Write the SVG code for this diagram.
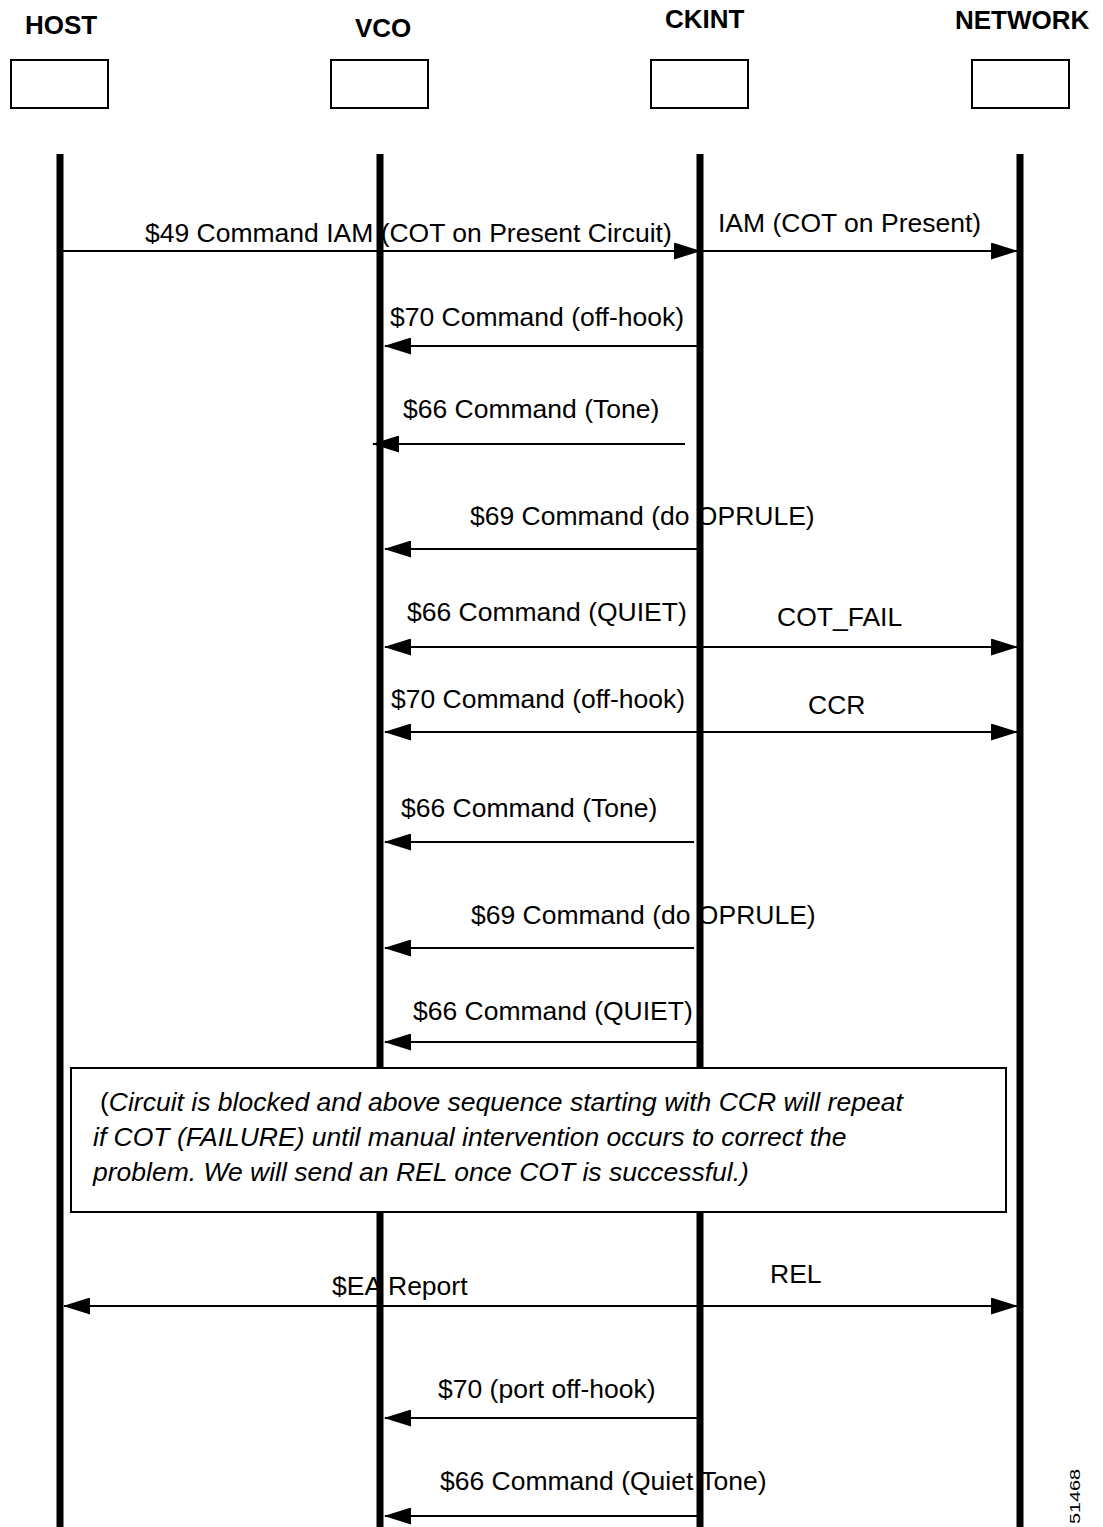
<svg xmlns="http://www.w3.org/2000/svg" width="1103" height="1527" viewBox="0 0 1103 1527">
  <style>
    text { font-family: "Liberation Sans", Arial, Helvetica, sans-serif; fill: #000; }
    .head { font-size: 26px; font-weight: bold; }
    .lbl { font-size: 26.5px; }
    .note { font-size: 26.5px; font-style: italic; }
    .up { font-style: normal; }
    .box { fill: #fff; stroke: #000; stroke-width: 2; }
    .life { stroke: #000; stroke-width: 7; }
    .msg { stroke: #000; stroke-width: 2; fill: none; }
    .to { marker-end: url(#head); }
    .both { marker-start: url(#head); marker-end: url(#head); }
  </style>
  <defs>
    <marker id="head" markerUnits="userSpaceOnUse" markerWidth="27" markerHeight="17" viewBox="0 0 27 17" refX="26" refY="8.5" orient="auto-start-reverse">
      <path d="M0,0 L27,8.5 L0,17 z" fill="#000"/>
    </marker>
  </defs>
  <rect width="1103" height="1527" fill="#fff"/>

  <!-- messages and their labels -->
  <g id="connectors">
    <line class="msg to" x1="62" y1="251" x2="700" y2="251"/>
    <text class="lbl" x="145" y="242">$49 Command IAM (COT on Present Circuit)</text>
    <line class="msg to" x1="700" y1="251" x2="1017" y2="251"/>
    <text class="lbl" x="718" y="232">IAM (COT on Present)</text>

    <line class="msg to" x1="697" y1="346" x2="385" y2="346"/>
    <text class="lbl" x="390" y="326">$70 Command (off-hook)</text>

    <line class="msg to" x1="685" y1="444" x2="373" y2="444"/>
    <text class="lbl" x="403" y="418">$66 Command (Tone)</text>

    <line class="msg to" x1="697" y1="549" x2="385" y2="549"/>
    <text class="lbl" x="470" y="525">$69 Command (do OPRULE)</text>

    <line class="msg both" x1="385" y1="647" x2="1017" y2="647"/>
    <text class="lbl" x="407" y="621">$66 Command (QUIET)</text>
    <text class="lbl" x="777" y="626">COT_FAIL</text>

    <line class="msg both" x1="385" y1="732" x2="1017" y2="732"/>
    <text class="lbl" x="391" y="708">$70 Command (off-hook)</text>
    <text class="lbl" x="808" y="714">CCR</text>

    <line class="msg to" x1="694" y1="842" x2="385" y2="842"/>
    <text class="lbl" x="401" y="817">$66 Command (Tone)</text>

    <line class="msg to" x1="694" y1="948" x2="385" y2="948"/>
    <text class="lbl" x="471" y="924">$69 Command (do OPRULE)</text>

    <line class="msg to" x1="697" y1="1042" x2="385" y2="1042"/>
    <text class="lbl" x="413" y="1020">$66 Command (QUIET)</text>

    <line class="msg both" x1="64" y1="1306" x2="1017" y2="1306"/>
    <text class="lbl" x="332" y="1295">$EA Report</text>
    <text class="lbl" x="770" y="1283">REL</text>

    <line class="msg to" x1="697" y1="1418" x2="385" y2="1418"/>
    <text class="lbl" x="438" y="1398">$70 (port off-hook)</text>

    <line class="msg to" x1="697" y1="1516" x2="385" y2="1516"/>
    <text class="lbl" x="440" y="1490">$66 Command (Quiet Tone)</text>
  </g>

  <!-- participants: name, box and lifeline -->
  <g id="host">
    <text class="head" x="25" y="34">HOST</text>
    <rect class="box" x="11" y="60" width="97" height="48"/>
    <line class="life" x1="60" y1="154" x2="60" y2="1527"/>
  </g>
  <g id="vco">
    <text class="head" x="355" y="37">VCO</text>
    <rect class="box" x="331" y="60" width="97" height="48"/>
    <line class="life" x1="380" y1="154" x2="380" y2="1527"/>
  </g>
  <g id="ckint">
    <text class="head" x="665" y="28">CKINT</text>
    <rect class="box" x="651" y="60" width="97" height="48"/>
    <line class="life" x1="700" y1="154" x2="700" y2="1527"/>
  </g>
  <g id="network">
    <text class="head" x="955" y="29">NETWORK</text>
    <rect class="box" x="972" y="60" width="97" height="48"/>
    <line class="life" x1="1020" y1="154" x2="1020" y2="1527"/>
  </g>

  <!-- note across the lifelines -->
  <g id="note">
    <rect class="box" x="71" y="1068" width="935" height="144"/>
    <text class="note" x="100" y="1111"><tspan class="up">(</tspan>Circuit is blocked and above sequence starting with CCR will repeat</text>
    <text class="note" x="93" y="1146">if COT (FAILURE) until manual intervention occurs to correct the</text>
    <text class="note" x="93" y="1181">problem. We will send an REL once COT is successful.)</text>
  </g>

  <text x="1080" y="1524" transform="rotate(-90 1080 1524)" font-size="15" textLength="55" lengthAdjust="spacingAndGlyphs">51468</text>
</svg>
